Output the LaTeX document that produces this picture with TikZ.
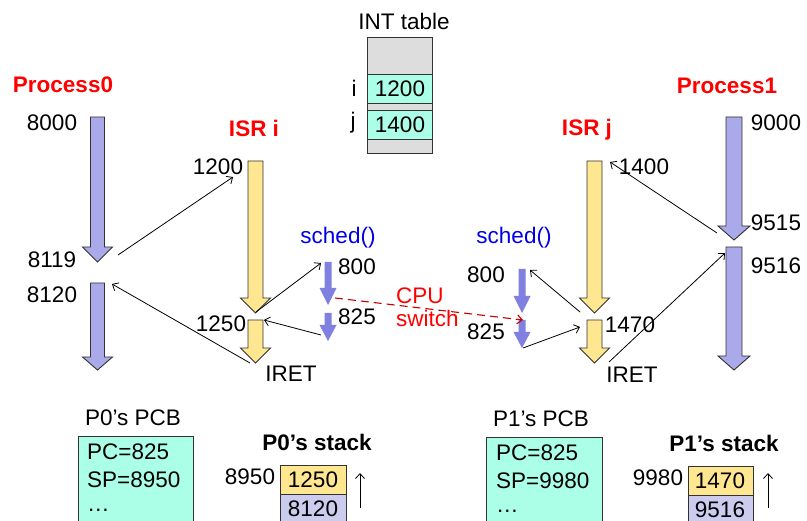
\documentclass[tikz,border=0pt]{standalone}
\usepackage{fontspec}
\setmainfont{Liberation Sans}
\usetikzlibrary{arrows.meta}
\definecolor{lav}{RGB}{170,170,234}
\definecolor{ylw}{RGB}{255,230,145}
\definecolor{schedc}{RGB}{128,128,224}
\definecolor{cyanc}{RGB}{170,255,230}
\definecolor{grayc}{RGB}{221,221,221}
\definecolor{lavlight}{RGB}{204,204,238}
\definecolor{redt}{RGB}{255,0,0}
\definecolor{bluet}{RGB}{0,0,230}
\definecolor{dred}{RGB}{200,0,0}
\definecolor{edge}{RGB}{50,50,50}
\newcommand\blockarr[7]{% style, cx, top, headstart, tip, half shaft, half head
  \path[#1] ({#2-#6},#3) -- ({#2+#6},#3) -- ({#2+#6},#4) -- ({#2+#7},#4) -- (#2,#5) -- ({#2-#7},#4) -- ({#2-#6},#4) -- cycle;}
\tikzset{
  txt/.style={inner sep=0pt, font=\fontsize{22.5}{26}\selectfont},
  rtxt/.style={txt, text=redt, font=\fontsize{22.5}{26}\selectfont\bfseries},
  btxt/.style={txt, text=bluet},
  procarr/.style={fill=lav, draw=edge, line width=0.9pt},
  israrr/.style={fill=ylw, draw=edge, line width=0.9pt},
  schedarr/.style={fill=schedc},
  conn/.style={draw=black, line width=0.8pt, -{Straight Barb[length=5pt,width=9pt]}},
  cell/.style={draw=edge, line width=0.9pt},
}
\begin{document}
\begin{tikzpicture}[x=1pt,y=-1pt]
\clip (0,0) rectangle (807,521);
\fill[white] (0,0) rectangle (807,521);

% INT table
\node[txt] (inttitle) at (404,21) {INT table};
\draw[cell, fill=grayc] (367,37) rectangle (432,153);
\draw[cell, fill=cyanc] (367,74) rectangle (432,103);
\draw[cell, fill=cyanc] (367,110) rectangle (432,139);
\node[txt] (ti) at (400,89) {1200};
\node[txt] (tj) at (400,125) {1400};
\node[txt] (li) at (354,88) {i};
\node[txt] (lj) at (353,123) {j};

% titles
\node[rtxt] (p0) at (63,85) {Process0};
\node[rtxt] (isri) at (254,128) {ISR i};
\node[rtxt] (isrj) at (587,130) {ISR j};
\node[rtxt] (p1) at (727,86) {Process1};

% block arrows
\blockarr{procarr}{97.5}{117}{247}{262}{7}{15}
\blockarr{procarr}{97.5}{283}{357}{370}{7}{15}
\blockarr{israrr}{255.5}{161}{298}{313}{7.5}{15}
\blockarr{israrr}{255.5}{320}{348}{363}{7.5}{15}
\blockarr{israrr}{594.5}{161}{298}{313}{7.5}{15}
\blockarr{israrr}{594.5}{320}{348}{363}{7.5}{15}
\blockarr{procarr}{734}{117}{226}{240}{8}{16}
\blockarr{procarr}{734}{247}{356}{370}{8}{16}
\blockarr{schedarr}{328}{262}{288}{305}{3.5}{8.5}
\blockarr{schedarr}{328}{313}{325}{341}{3.5}{8.5}
\blockarr{schedarr}{522}{269}{296}{313}{3.5}{8.5}
\blockarr{schedarr}{522}{320}{332}{348}{3.5}{8.5}

% labels
\node[txt] (n8000) at (52,123) {8000};
\node[txt] (n8119) at (52,260) {8119};
\node[txt] (n8120) at (52,295) {8120};
\node[txt] (n1200) at (218,167) {1200};
\node[txt] (n1250) at (221,324) {1250};
\node[txt] (iretl) at (291,374) {IRET};
\node[btxt] (schedl) at (338,238) {sched()};
\node[txt] (n800l) at (357,267) {800};
\node[txt] (n825l) at (357,317) {825};
\node[btxt] (schedr) at (514,238) {sched()};
\node[txt] (n800r) at (486,275) {800};
\node[txt] (n825r) at (486,332) {825};
\node[txt, text=redt, anchor=west] (cpu) at (396,296) {CPU};
\node[txt, text=redt, anchor=west] (switch) at (396,318) {switch};
\node[txt] (n1400) at (644,167) {1400};
\node[txt] (n1470) at (630,325) {1470};
\node[txt] (iretr) at (632,375) {IRET};
\node[txt] (n9000) at (776,123) {9000};
\node[txt] (n9515) at (776,223) {9515};
\node[txt] (n9516) at (776,266) {9516};

% connectors
\coordinate (a1s) at (118,255); \coordinate (a1e) at (233,177);
\coordinate (a2s) at (250,363); \coordinate (a2e) at (112,284);
\coordinate (a3s) at (256,312); \coordinate (a3e) at (321,263);
\coordinate (a4s) at (321,335); \coordinate (a4e) at (264,320);
\coordinate (a5s) at (580,312); \coordinate (a5e) at (530,270);
\coordinate (a6s) at (523,348); \coordinate (a6e) at (580,327);
\coordinate (a7s) at (609,362); \coordinate (a7e) at (725,253);
\coordinate (a8s) at (717,233); \coordinate (a8e) at (610,162);
\draw[conn] (a1s) -- (a1e);
\draw[conn] (a2s) -- (a2e);
\draw[conn] (a3s) -- (a3e);
\draw[conn] (a4s) -- (a4e);
\draw[conn] (a5s) -- (a5e);
\draw[conn] (a6s) -- (a6e);
\draw[conn] (a7s) -- (a7e);
\draw[conn] (a8s) -- (a8e);
\coordinate (sws) at (335,298); \coordinate (swe) at (523,320);
\draw[dred, line width=1.1pt, dash pattern=on 8pt off 5pt, -{Straight Barb[length=5pt,width=9pt]}] (sws) -- (swe);

% P0 PCB and stack
\node[txt] (pcb0t) at (133,418) {P0’s PCB};
\draw[cell, fill=cyanc] (78,436) rectangle (193,540);
\node[txt, anchor=west] (pc0) at (87,452) {PC=825};
\node[txt, anchor=west] (sp0) at (87,480) {SP=8950};
\node[txt, anchor=west] (dt0) at (87,510) {…};
\node[txt, font=\fontsize{22.5}{26}\selectfont\bfseries] (st0t) at (317,442) {P0’s stack};
\node[txt] (a8950) at (250,477) {8950};
\draw[cell, fill=ylw] (280,465) rectangle (346,494);
\draw[cell, fill=lavlight] (280,494) rectangle (346,540);
\node[txt] (s01) at (313,480) {1250};
\node[txt] (s02) at (313,509) {8120};
\coordinate (up0s) at (360,508); \coordinate (up0e) at (360,473);
\draw[line width=0.8pt, -{Straight Barb[length=5pt,width=9pt]}] (up0s) -- (up0e);

% P1 PCB and stack
\node[txt] (pcb1t) at (541,419) {P1’s PCB};
\draw[cell, fill=cyanc] (486,437) rectangle (602,540);
\node[txt, anchor=west] (pc1) at (496,453) {PC=825};
\node[txt, anchor=west] (sp1) at (496,481) {SP=9980};
\node[txt, anchor=west] (dt1) at (496,511) {…};
\node[txt, font=\fontsize{22.5}{26}\selectfont\bfseries] (st1t) at (724,443) {P1’s stack};
\node[txt] (a9980) at (658,478) {9980};
\draw[cell, fill=ylw] (688,466) rectangle (753,495);
\draw[cell, fill=lavlight] (688,495) rectangle (753,540);
\node[txt] (s11) at (720,481) {1470};
\node[txt] (s12) at (720,510) {9516};
\coordinate (up1s) at (768,508); \coordinate (up1e) at (768,473);
\draw[line width=0.8pt, -{Straight Barb[length=5pt,width=9pt]}] (up1s) -- (up1e);
\end{tikzpicture}
\end{document}
